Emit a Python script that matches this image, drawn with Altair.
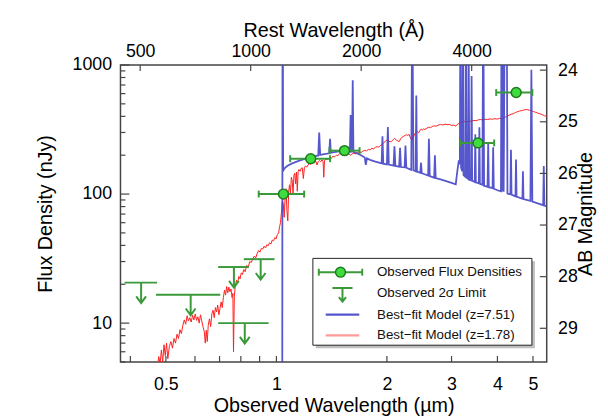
import math
import altair as alt
import pandas as pd

# ---------------- data ----------------
# Best-fit model z=1.78 (observed micron, nJy)
red_x = [0.472, 0.478, 0.482, 0.486, 0.490, 0.494, 0.498, 0.502, 0.506, 0.511, 0.516, 0.521, 0.526, 0.531,
         0.536, 0.541, 0.546, 0.551, 0.556, 0.561, 0.566, 0.571, 0.576, 0.581, 0.586, 0.591, 0.596, 0.601,
         0.606, 0.611, 0.616, 0.621, 0.626, 0.631, 0.636, 0.640, 0.644, 0.648, 0.652, 0.657, 0.662, 0.667,
         0.672, 0.677, 0.682, 0.687, 0.692, 0.697, 0.702, 0.707, 0.712, 0.717, 0.722, 0.727, 0.732, 0.737,
         0.742, 0.747, 0.752, 0.757, 0.761, 0.764, 0.768, 0.772, 0.778, 0.784, 0.790, 0.796, 0.802, 0.808,
         0.815, 0.822, 0.830, 0.838, 0.846, 0.854, 0.862, 0.870, 0.878, 0.886, 0.894, 0.902, 0.910, 0.918,
         0.926, 0.934, 0.942, 0.950, 0.958, 0.966, 0.974, 0.982, 0.990, 0.998, 1.006, 1.014, 1.020, 1.026,
         1.032, 1.038, 1.044, 1.050, 1.056, 1.062, 1.068, 1.074, 1.080, 1.086, 1.092, 1.098, 1.104, 1.110,
         1.116, 1.122, 1.128, 1.134, 1.140, 1.146, 1.152, 1.160, 1.168, 1.176, 1.184, 1.192, 1.200, 1.210,
         1.220, 1.230, 1.240, 1.250, 1.260, 1.270, 1.280, 1.290, 1.300, 1.310, 1.320, 1.330, 1.340, 1.346,
         1.352, 1.365, 1.380, 1.395, 1.410, 1.425, 1.440, 1.455, 1.470, 1.485, 1.500, 1.515, 1.530, 1.545,
         1.560, 1.575, 1.590, 1.605, 1.620, 1.640, 1.660, 1.680, 1.700, 1.720, 1.740, 1.760, 1.780, 1.800,
         1.820, 1.840, 1.860, 1.880, 1.900, 1.920, 1.940, 1.960, 1.980, 2.000, 2.020, 2.040, 2.060, 2.080,
         2.100, 2.120, 2.140, 2.160, 2.180, 2.200, 2.220, 2.240, 2.260, 2.280, 2.300, 2.320, 2.340, 2.360,
         2.380, 2.400, 2.420, 2.440, 2.460, 2.480, 2.500, 2.520, 2.540, 2.570, 2.600, 2.630, 2.660, 2.690,
         2.720, 2.760, 2.800, 2.840, 2.880, 2.920, 2.960, 3.000, 3.040, 3.080, 3.120, 3.160, 3.200, 3.250,
         3.300, 3.350, 3.400, 3.450, 3.500, 3.550, 3.600, 3.650, 3.700, 3.760, 3.820, 3.880, 3.940, 4.000,
         4.060, 4.120, 4.180, 4.240, 4.300, 4.360, 4.420, 4.480, 4.540, 4.600, 4.660, 4.720, 4.780, 4.840,
         4.900, 4.960, 5.020, 5.080, 5.140, 5.200, 5.260, 5.320, 5.380, 5.450]
red_y = [4.0, 5.5, 4.8, 6.2, 5.0, 6.8, 5.6, 7.0, 5.3, 6.6, 7.2, 6.4, 7.6, 7.0,
         8.2, 7.6, 8.9, 8.3, 9.6, 10.6, 9.8, 11.4, 10.4, 11.0, 10.2, 11.5, 10.6, 11.8,
         10.5, 11.2, 10.0, 11.6, 10.4, 9.4, 8.6, 7.0, 8.8, 7.2, 9.6, 10.8, 9.4, 11.8,
         12.6, 11.0, 13.2, 12.2, 13.8, 11.6, 13.0, 14.6, 13.2, 15.8, 18.0, 16.5, 19.2, 17.2,
         19.0, 17.5, 18.4, 15.8, 17.0, 6.0, 16.0, 19.0, 21.5, 20.5, 23.0, 22.0, 24.5, 23.8,
         26.0, 25.0, 28.0, 27.2, 30.0, 29.5, 31.5, 33.0, 32.0, 34.5, 36.5, 35.5, 38.0, 37.5,
         39.5, 38.2, 40.5, 39.8, 42.0, 41.0, 44.0, 43.5, 46.0, 45.0, 48.5, 50.0, 56.0, 60.0,
         72.0, 88.0, 84.0, 66.0, 95.0, 110.0, 75.0, 62.0, 105.0, 118.0, 100.0, 135.0, 128.0, 100.0,
         140.0, 145.0, 120.0, 148.0, 105.0, 150.0, 155.0, 150.0, 158.0, 160.0, 132.0, 160.0, 165.0, 162.0,
         168.0, 172.0, 170.0, 176.0, 178.0, 175.0, 180.0, 168.0, 178.0, 182.0, 178.0, 184.0, 180.0, 135.0,
         182.0, 186.0, 185.0, 190.0, 188.0, 196.0, 194.0, 200.0, 198.0, 205.0, 210.0, 212.0, 206.0, 204.0,
         202.0, 205.0, 200.0, 204.0, 207.0, 205.0, 209.0, 212.0, 210.0, 215.0, 218.0, 216.0, 222.0, 220.0,
         226.0, 224.0, 230.0, 233.0, 231.0, 238.0, 242.0, 250.0, 256.0, 262.0, 258.0, 254.0, 256.0, 264.0,
         270.0, 262.0, 258.0, 255.0, 268.0, 276.0, 280.0, 284.0, 288.0, 285.0, 290.0, 270.0, 262.0, 275.0,
         292.0, 300.0, 305.0, 298.0, 312.0, 318.0, 314.0, 320.0, 316.0, 324.0, 330.0, 327.0, 334.0, 338.0,
         335.0, 342.0, 346.0, 343.0, 348.0, 345.0, 346.0, 340.0, 342.0, 337.0, 348.0, 356.0, 360.0, 364.0,
         362.0, 366.0, 368.0, 372.0, 370.0, 376.0, 378.0, 375.0, 380.0, 378.0, 382.0, 380.0, 384.0, 381.0,
         386.0, 384.0, 392.0, 400.0, 408.0, 415.0, 420.0, 428.0, 435.0, 440.0, 444.0, 448.0, 452.0, 450.0,
         446.0, 440.0, 436.0, 430.0, 425.0, 420.0, 416.0, 410.0, 404.0, 400.0]

# Best-fit model z=7.51 (observed micron, nJy)
blue_x = [1.020, 1.037, 1.039, 1.041, 1.043, 1.052, 1.070, 1.100, 1.150, 1.200, 1.250, 1.300, 1.308, 1.316,
          1.350, 1.393, 1.400, 1.407, 1.450, 1.500, 1.550, 1.585, 1.593, 1.600, 1.607, 1.614, 1.621, 1.660,
          1.700, 1.740, 1.752, 1.764, 1.800, 1.850, 1.935, 1.945, 1.955, 2.000, 2.012, 2.024, 2.085, 2.097,
          2.109, 2.160, 2.172, 2.184, 2.235, 2.247, 2.259, 2.330, 2.345, 2.362, 2.395, 2.405, 2.415, 2.465,
          2.477, 2.489, 2.590, 2.603, 2.616, 2.690, 2.703, 2.716, 2.800, 2.900, 3.000, 3.080, 3.110, 3.140,
          3.160, 3.172, 3.184, 3.210, 3.222, 3.234, 3.270, 3.287, 3.300, 3.330, 3.342, 3.354, 3.390, 3.402,
          3.414, 3.470, 3.482, 3.494, 3.560, 3.572, 3.584, 3.640, 3.660, 3.680, 3.760, 3.775, 3.790, 3.880,
          3.895, 3.910, 4.000, 4.090, 4.105, 4.120, 4.140, 4.160, 4.190, 4.215, 4.240, 4.260, 4.340, 4.355,
          4.370, 4.480, 4.495, 4.510, 4.680, 4.695, 4.710, 4.920, 4.950, 4.980, 5.200, 5.330, 5.350, 5.370,
          5.450]
blue_y = [0.5, 0.5, 4000, 4000, 152, 158, 165, 172, 181, 188, 194, 199, 300, 201,
          204, 207, 268, 209, 212, 215, 216, 214, 410, 213, 214, 760, 212, 206,
          200, 192, 168, 189, 184, 179, 173, 280, 172, 170, 330, 169, 166, 235,
          165, 163, 228, 162, 161, 238, 160, 154, 4000, 153, 150, 580, 149, 146,
          175, 145, 139, 268, 138, 134, 200, 133, 130, 126, 122, 119, 150, 182,
          170, 4000, 160, 150, 4000, 140, 136, 4000, 134, 131, 1100, 130, 128, 820,
          127, 124, 290, 123, 121, 330, 120, 118, 4000, 116, 114, 250, 113, 111,
          230, 110, 107, 105, 4000, 104.5, 4000, 104, 4000, 4000, 4000, 101, 99.5, 220,
          99, 96, 185, 95.5, 92, 150, 91.5, 88.5, 920, 87.5, 84, 82, 165, 81.5,
          80]

# Observed flux densities with wavelength ranges
obs_x = [1.045, 1.24, 1.533, 3.54, 4.50]
obs_y = [100, 188, 217, 249, 612]
obs_xlo = [0.895, 1.09, 1.395, 3.17, 3.97]
obs_xhi = [1.19, 1.40, 1.685, 3.92, 4.98]

# Observed 2-sigma limits
lim_x = [0.428, 0.584, 0.820, 0.766, 0.906]
lim_y = [20.6, 16.6, 10.0, 27.2, 31.3]
lim_xlo = [0.386, 0.470, 0.694, 0.694, 0.815]
lim_xhi = [0.473, 0.703, 0.952, 0.841, 0.988]

# axes
x_label_vals = [0.5, 1, 2, 3, 4, 5]
x_tick_vals = [0.4, 0.5, 0.6, 0.7, 0.8, 0.9, 1, 2, 3, 4, 5]
y_label_vals = [10, 100, 1000]
y_minor_vals = [5, 6, 7, 8, 9, 20, 30, 40, 50, 60, 70, 80, 90, 200, 300, 400, 500, 600, 700, 800, 900]
rest_vals = [500, 1000, 2000, 4000]
mag_vals = [24, 25, 26, 27, 28, 29]

Z = 7.51
ZP = 31.4
X_DOM = [0.376, 5.45]
Y_DOM = [5, 1000]

W, H = 432, 301
FONT = "Liberation Sans"
FRAME = "#444444"
GREEN = "#3a9a3a"
BLUE = "#4545c8"


def xs():
    return alt.Scale(type="log", domain=X_DOM, nice=False)


def ys():
    return alt.Scale(type="log", domain=Y_DOM, nice=False)


xaxis = alt.Axis(orient="bottom", values=x_label_vals, format="~g", ticks=False, tickSize=0, domain=False,
                 grid=False, labelFontSize=18, labelFont=FONT, labelColor="black", labelPadding=14,
                 labelOverlap=False, labelFlush=False, title="Observed Wavelength (µm)", titleFont=FONT,
                 titleFontSize=20, titleFontWeight="normal", titleColor="black", titlePadding=2)
yaxis = alt.Axis(orient="left", values=y_label_vals, format="d", ticks=False, tickSize=0, domain=False,
                 grid=False, labelFontSize=18, labelFont=FONT, labelColor="black", labelPadding=9,
                 labelOverlap=False, labelFlush=False, title="Flux Density (nJy)", titleFont=FONT,
                 titleFontSize=20, titleFontWeight="normal", titleColor="black", titlePadding=17)

red_df = pd.DataFrame({"x": red_x, "y": red_y})
blue_df = pd.DataFrame({"x": blue_x, "y": blue_y})
obs_df = pd.DataFrame({"x": obs_x, "y": obs_y, "xlo": obs_xlo, "xhi": obs_xhi})
lim_df = pd.DataFrame({"x": lim_x, "y": lim_y, "xlo": lim_xlo, "xhi": lim_xhi})

red = alt.Chart(red_df).mark_line(color="#ff2020", strokeWidth=1, clip=True).encode(
    x=alt.X("x:Q", scale=xs(), axis=xaxis), y=alt.Y("y:Q", scale=ys(), axis=yaxis))
blue = alt.Chart(blue_df).mark_line(color=BLUE, strokeWidth=1.8, opacity=0.9, clip=True).encode(
    x=alt.X("x:Q", scale=xs(), axis=None), y=alt.Y("y:Q", scale=ys(), axis=None))

lim_line = alt.Chart(lim_df).mark_rule(color=GREEN, strokeWidth=2).encode(
    x=alt.X("xlo:Q", scale=xs(), axis=None), x2="xhi:Q", y=alt.Y("y:Q", scale=ys(), axis=None))
ARROW = "M0,0L0,2.6M-0.62,1.75L0,2.6L0.62,1.75"
lim_arrow = alt.Chart(lim_df).mark_point(shape=ARROW, size=256, filled=False, stroke=GREEN,
                                         strokeWidth=2, opacity=1).encode(
    x=alt.X("x:Q", scale=xs(), axis=None), y=alt.Y("y:Q", scale=ys(), axis=None))

err = alt.Chart(obs_df).mark_rule(color=GREEN, strokeWidth=2).encode(
    x=alt.X("xlo:Q", scale=xs(), axis=None), x2="xhi:Q", y=alt.Y("y:Q", scale=ys(), axis=None))
CAP = "M0,-1L0,1"
cap_lo = alt.Chart(obs_df).mark_point(shape=CAP, size=49, filled=False, stroke=GREEN, strokeWidth=2,
                                      opacity=1).encode(
    x=alt.X("xlo:Q", scale=xs(), axis=None), y=alt.Y("y:Q", scale=ys(), axis=None))
cap_hi = alt.Chart(obs_df).mark_point(shape=CAP, size=49, filled=False, stroke=GREEN, strokeWidth=2,
                                      opacity=1).encode(
    x=alt.X("xhi:Q", scale=xs(), axis=None), y=alt.Y("y:Q", scale=ys(), axis=None))
pts = alt.Chart(obs_df).mark_point(shape="circle", size=100, filled=True, fill="#3fdc3f", stroke="#1f7a1f",
                                   strokeWidth=1.5, opacity=1).encode(
    x=alt.X("x:Q", scale=xs(), axis=None), y=alt.Y("y:Q", scale=ys(), axis=None))

# inward ticks
bt = alt.Chart(pd.DataFrame({"x": x_tick_vals})).mark_rule(color=FRAME, strokeWidth=1.2).encode(
    x=alt.X("x:Q", scale=xs(), axis=None), y=alt.value(H), y2=alt.value(H - 6))
lt_major = alt.Chart(pd.DataFrame({"y": y_label_vals})).mark_rule(color=FRAME, strokeWidth=1.2).encode(
    y=alt.Y("y:Q", scale=ys(), axis=None), x=alt.value(0), x2=alt.value(9))
lt_minor = alt.Chart(pd.DataFrame({"y": y_minor_vals})).mark_rule(color=FRAME, strokeWidth=1.2).encode(
    y=alt.Y("y:Q", scale=ys(), axis=None), x=alt.value(0), x2=alt.value(5))

# top axis: rest-frame wavelength
rest_dom = [X_DOM[0] * 1e4 / (1 + Z), X_DOM[1] * 1e4 / (1 + Z)]
top = alt.Chart(pd.DataFrame({"rest": rest_vals})).mark_rule(color=FRAME, strokeWidth=1.2).encode(
    x=alt.X("rest:Q", scale=alt.Scale(type="log", domain=rest_dom, nice=False),
            axis=alt.Axis(orient="top", values=rest_vals, format="d", ticks=False, tickSize=0, domain=False,
                          grid=False, labelFontSize=18, labelFont=FONT, labelColor="black", labelPadding=5,
                          labelOverlap=False, labelFlush=False, title="Rest Wavelength (Å)", titleFont=FONT,
                          titleFontSize=20, titleFontWeight="normal", titleColor="black", titlePadding=2)),
    y=alt.value(0), y2=alt.value(6))

# right axis: AB magnitude
mag_dom = [ZP - 2.5 * math.log10(Y_DOM[1]), ZP - 2.5 * math.log10(Y_DOM[0])]
right = alt.Chart(pd.DataFrame({"mag": mag_vals})).mark_rule(color=FRAME, strokeWidth=1.2).encode(
    y=alt.Y("mag:Q", scale=alt.Scale(domain=mag_dom, reverse=True, nice=False, zero=False),
            axis=alt.Axis(orient="right", values=mag_vals, format="d", ticks=False, tickSize=0, domain=False,
                          grid=False, labelFontSize=18, labelFont=FONT, labelColor="black", labelPadding=11,
                          labelOverlap=False, labelFlush=False, title="AB Magnitude", titleFont=FONT,
                          titleFontSize=20, titleFontWeight="normal", titleColor="black",
                          titleAngle=270, titleX=39, titleY=H / 2, titleAlign="center",
                          titleBaseline="middle")),
    x=alt.value(W), x2=alt.value(W - 7))

# legend (drawn inside the plot)
one = pd.DataFrame({"a": [0]})
LX0, LX1, LY0, LY1 = 195, 417, 196, 284
leg_shadow = alt.Chart(one).mark_rect(fill="#8a8a8a", opacity=0.55).encode(
    x=alt.value(LX0 + 3), x2=alt.value(LX1 + 3), y=alt.value(LY0 + 3), y2=alt.value(LY1 + 3))
leg_box = alt.Chart(one).mark_rect(fill="white", stroke="#222222", strokeWidth=1).encode(
    x=alt.value(LX0), x2=alt.value(LX1), y=alt.value(LY0), y2=alt.value(LY1))
leg_r1 = alt.Chart(one).mark_rule(color=GREEN, strokeWidth=2).encode(
    x=alt.value(201), x2=alt.value(245), y=alt.value(210))
leg_c1a = alt.Chart(one).mark_point(shape=CAP, size=49, filled=False, stroke=GREEN, strokeWidth=2,
                                    opacity=1).encode(x=alt.value(201), y=alt.value(210))
leg_c1b = alt.Chart(one).mark_point(shape=CAP, size=49, filled=False, stroke=GREEN, strokeWidth=2,
                                    opacity=1).encode(x=alt.value(245), y=alt.value(210))
leg_p1 = alt.Chart(one).mark_point(shape="circle", size=100, filled=True, fill="#3fdc3f", stroke="#1f7a1f",
                                   strokeWidth=1.5, opacity=1).encode(x=alt.value(223), y=alt.value(210))
LEG_ARROW = "M-1.7,0L1.7,0M0,0L0,2.3M-0.6,1.55L0,2.3L0.6,1.55"
leg_a2 = alt.Chart(one).mark_point(shape=LEG_ARROW, size=144, filled=False, stroke=GREEN, strokeWidth=2,
                                   opacity=1).encode(x=alt.value(225), y=alt.value(226))
leg_b3 = alt.Chart(one).mark_rule(color=BLUE, strokeWidth=2.2, opacity=0.9).encode(
    x=alt.value(208), x2=alt.value(242), y=alt.value(253))
leg_r4 = alt.Chart(one).mark_rule(color="#ff9a9a", strokeWidth=2.2).encode(
    x=alt.value(208), x2=alt.value(242), y=alt.value(274))
leg_texts = []
for txt, yy in [("Observed Flux Densities", 210), ("Observed 2σ Limit", 231),
                ("Best−fit Model (z=7.51)", 253), ("Best−fit Model (z=1.78)", 274)]:
    leg_texts.append(alt.Chart(one).mark_text(align="left", baseline="middle", font=FONT, fontSize=13.5,
                                              color="#111111", text=txt).encode(
        x=alt.value(260), y=alt.value(yy)))

chart = alt.layer(
    red, blue, lim_line, lim_arrow, err, cap_lo, cap_hi, pts, bt, lt_major, lt_minor, top, right,
    leg_shadow, leg_box, leg_r1, leg_c1a, leg_c1b, leg_p1, leg_a2, leg_b3, leg_r4, *leg_texts
).resolve_scale(x="independent", y="independent").properties(
    width=W, height=H,
    autosize=alt.AutoSizeParams(type="none"),
    padding={"left": 114, "top": 55, "right": 54, "bottom": 53},
    background="white",
).configure_view(stroke=FRAME, strokeWidth=1.5)

chart.save("out.html", embed_options={"renderer": "svg", "actions": False})
